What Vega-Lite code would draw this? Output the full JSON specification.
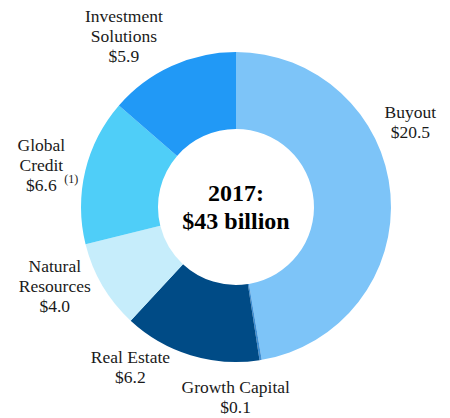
{
  "$schema": "https://vega.github.io/schema/vega-lite/v6.json",
  "width": 428,
  "height": 414,
  "autosize": "none",
  "padding": {"left": 22, "right": 0, "top": 0, "bottom": 4},
  "background": "white",
  "view": {"stroke": null},
  "data": {
    "values": [
      {"cat": "Buyout", "value": 20.5, "rank": 1, "label": "Buyout\n$20.5", "note": ""},
      {"cat": "Growth Capital", "value": 0.1, "rank": 2, "label": "Growth Capital\n$0.1", "note": ""},
      {"cat": "Real Estate", "value": 6.2, "rank": 3, "label": "Real Estate\n$6.2", "note": ""},
      {"cat": "Natural Resources", "value": 4.0, "rank": 4, "label": "Natural\nResources\n$4.0", "note": ""},
      {"cat": "Global Credit", "value": 6.6, "rank": 5, "label": "Global\nCredit\n$6.6", "note": "(1)"},
      {"cat": "Investment Solutions", "value": 5.9, "rank": 6, "label": "Investment\nSolutions\n$5.9", "note": ""}
    ]
  },
  "encoding": {
    "theta": {"field": "value", "type": "quantitative", "stack": true},
    "order": {"field": "rank", "type": "quantitative"},
    "detail": {"field": "cat", "type": "nominal"}
  },
  "layer": [
    {
      "mark": {"type": "arc", "outerRadius": 155, "innerRadius": 78},
      "encoding": {
        "color": {
          "field": "cat",
          "type": "nominal",
          "legend": null,
          "scale": {
            "domain": ["Buyout", "Growth Capital", "Real Estate", "Natural Resources", "Global Credit", "Investment Solutions"],
            "range": ["#7dc4f8", "#3f8fd4", "#004b86", "#c6edfb", "#4fcef8", "#2199f6"]
          }
        }
      }
    },
    {
      "mark": {"type": "text", "radius": 193, "dx": -18, "dy": -78, "font": "Liberation Serif", "fontSize": 17.5, "lineHeight": 20, "lineBreak": "\n", "align": "center", "baseline": "middle", "color": "#1a1a1a"},
      "encoding": {"text": {"condition": {"test": "datum.cat === 'Buyout'", "field": "label"}, "value": ""}}
    },
    {
      "mark": {"type": "text", "radius": 193, "dx": -31, "dy": -10, "font": "Liberation Serif", "fontSize": 17.5, "lineHeight": 20, "lineBreak": "\n", "align": "center", "baseline": "middle", "color": "#1a1a1a"},
      "encoding": {"text": {"condition": {"test": "datum.cat === 'Growth Capital'", "field": "label"}, "value": ""}}
    },
    {
      "mark": {"type": "text", "radius": 193, "dx": -49, "dy": -34, "font": "Liberation Serif", "fontSize": 17.5, "lineHeight": 20, "lineBreak": "\n", "align": "center", "baseline": "middle", "color": "#1a1a1a"},
      "encoding": {"text": {"condition": {"test": "datum.cat === 'Real Estate'", "field": "label"}, "value": ""}}
    },
    {
      "mark": {"type": "text", "radius": 193, "dx": -15, "dy": -38, "font": "Liberation Serif", "fontSize": 17.5, "lineHeight": 20, "lineBreak": "\n", "align": "center", "baseline": "middle", "color": "#1a1a1a"},
      "encoding": {"text": {"condition": {"test": "datum.cat === 'Natural Resources'", "field": "label"}, "value": ""}}
    },
    {
      "mark": {"type": "text", "radius": 193, "dx": -7, "dy": -16, "font": "Liberation Serif", "fontSize": 17.5, "lineHeight": 20, "lineBreak": "\n", "align": "center", "baseline": "middle", "color": "#1a1a1a"},
      "encoding": {"text": {"condition": {"test": "datum.cat === 'Global Credit'", "field": "label"}, "value": ""}}
    },
    {
      "mark": {"type": "text", "radius": 193, "dx": 23, "dy": 17, "font": "Liberation Serif", "fontSize": 12, "align": "center", "baseline": "middle", "color": "#1a1a1a"},
      "encoding": {"text": {"field": "note"}}
    },
    {
      "mark": {"type": "text", "radius": 193, "dx": -32, "dy": -14, "font": "Liberation Serif", "fontSize": 17.5, "lineHeight": 20, "lineBreak": "\n", "align": "center", "baseline": "middle", "color": "#1a1a1a"},
      "encoding": {"text": {"condition": {"test": "datum.cat === 'Investment Solutions'", "field": "label"}, "value": ""}}
    },
    {
      "data": {"values": [{"headline": "2017:\n$43 billion"}]},
      "mark": {"type": "text", "dy": -13, "font": "Liberation Serif", "fontSize": 24, "fontWeight": "bold", "lineHeight": 28, "lineBreak": "\n", "align": "center", "baseline": "middle", "color": "#000000"},
      "encoding": {
        "theta": {"value": 0},
        "radius": {"value": 0},
        "order": null,
        "detail": null,
        "text": {"field": "headline"}
      }
    }
  ]
}
